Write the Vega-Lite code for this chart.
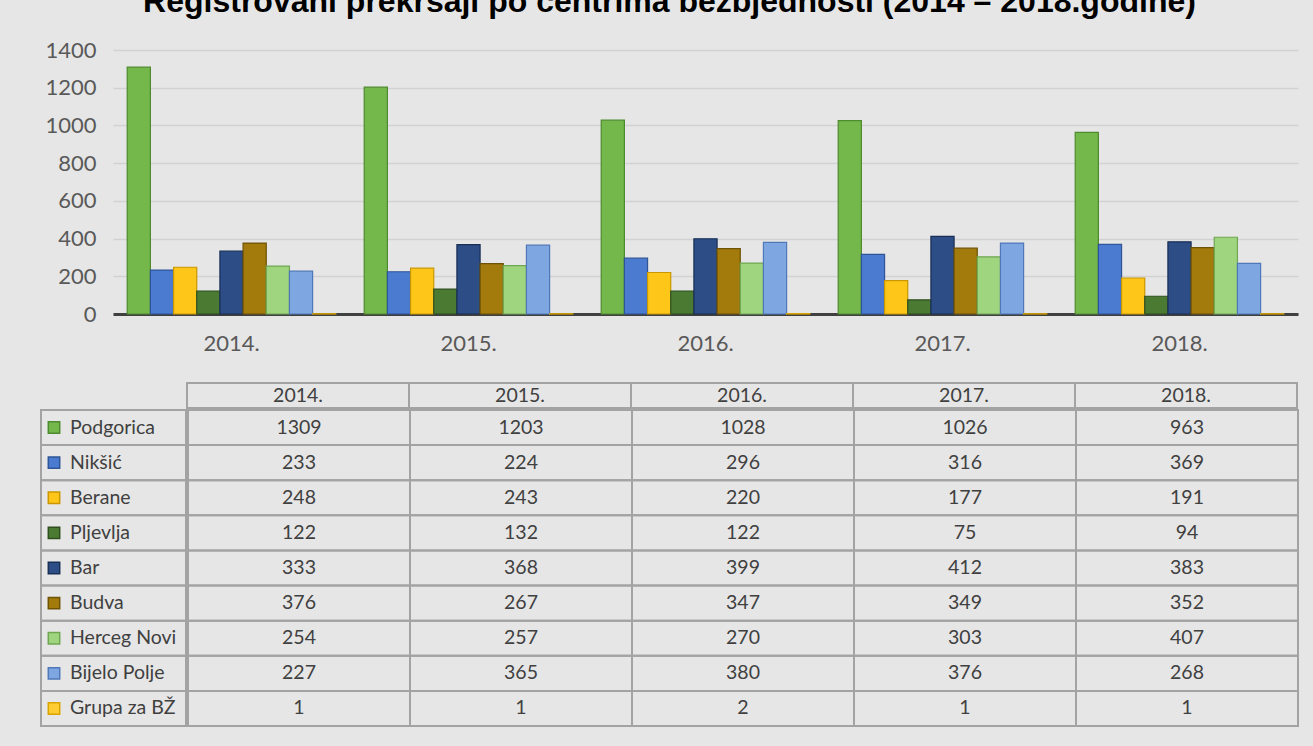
{
  "$schema": "https://vega.github.io/schema/vega-lite/v6.json",
  "background": "#e6e6e6",
  "padding": {"left": 40, "top": -14, "right": 16, "bottom": 23},
  "title": {
    "text": "Registrovani prekršaji po centrima bezbjednosti (2014 – 2018.godine)",
    "font": "Liberation Sans",
    "fontSize": 32,
    "fontWeight": "bold",
    "color": "#000000",
    "anchor": "middle",
    "offset": 20
  },
  "config": {
    "view": {"stroke": null},
    "font": "Lato",
    "axis": {"labelFont": "Lato"}
  },
  "datasets": {
    "crimes": [
      {"year": "2014.", "city": "Podgorica", "value": 1309},
      {"year": "2014.", "city": "Nikšić", "value": 233},
      {"year": "2014.", "city": "Berane", "value": 248},
      {"year": "2014.", "city": "Pljevlja", "value": 122},
      {"year": "2014.", "city": "Bar", "value": 333},
      {"year": "2014.", "city": "Budva", "value": 376},
      {"year": "2014.", "city": "Herceg Novi", "value": 254},
      {"year": "2014.", "city": "Bijelo Polje", "value": 227},
      {"year": "2014.", "city": "Grupa za BŽ", "value": 1},
      {"year": "2015.", "city": "Podgorica", "value": 1203},
      {"year": "2015.", "city": "Nikšić", "value": 224},
      {"year": "2015.", "city": "Berane", "value": 243},
      {"year": "2015.", "city": "Pljevlja", "value": 132},
      {"year": "2015.", "city": "Bar", "value": 368},
      {"year": "2015.", "city": "Budva", "value": 267},
      {"year": "2015.", "city": "Herceg Novi", "value": 257},
      {"year": "2015.", "city": "Bijelo Polje", "value": 365},
      {"year": "2015.", "city": "Grupa za BŽ", "value": 1},
      {"year": "2016.", "city": "Podgorica", "value": 1028},
      {"year": "2016.", "city": "Nikšić", "value": 296},
      {"year": "2016.", "city": "Berane", "value": 220},
      {"year": "2016.", "city": "Pljevlja", "value": 122},
      {"year": "2016.", "city": "Bar", "value": 399},
      {"year": "2016.", "city": "Budva", "value": 347},
      {"year": "2016.", "city": "Herceg Novi", "value": 270},
      {"year": "2016.", "city": "Bijelo Polje", "value": 380},
      {"year": "2016.", "city": "Grupa za BŽ", "value": 2},
      {"year": "2017.", "city": "Podgorica", "value": 1026},
      {"year": "2017.", "city": "Nikšić", "value": 316},
      {"year": "2017.", "city": "Berane", "value": 177},
      {"year": "2017.", "city": "Pljevlja", "value": 75},
      {"year": "2017.", "city": "Bar", "value": 412},
      {"year": "2017.", "city": "Budva", "value": 349},
      {"year": "2017.", "city": "Herceg Novi", "value": 303},
      {"year": "2017.", "city": "Bijelo Polje", "value": 376},
      {"year": "2017.", "city": "Grupa za BŽ", "value": 1},
      {"year": "2018.", "city": "Podgorica", "value": 963},
      {"year": "2018.", "city": "Nikšić", "value": 369},
      {"year": "2018.", "city": "Berane", "value": 191},
      {"year": "2018.", "city": "Pljevlja", "value": 94},
      {"year": "2018.", "city": "Bar", "value": 383},
      {"year": "2018.", "city": "Budva", "value": 352},
      {"year": "2018.", "city": "Herceg Novi", "value": 407},
      {"year": "2018.", "city": "Bijelo Polje", "value": 268},
      {"year": "2018.", "city": "Grupa za BŽ", "value": 1}
    ]
  },
  "data": {"name": "crimes"},
  "spacing": 28,
  "vconcat": [
    {
      "spacing": 0,
      "hconcat": [
        {
          "width": 1,
          "height": 264,
          "transform": [{"filter": "datum.city === 'Podgorica' && datum.year === '2014.'"}],
          "mark": {"type": "rect", "opacity": 0},
          "encoding": {}
        },
        {
          "width": 1185,
          "height": 264,
          "mark": {"type": "bar", "strokeWidth": 1.2},
          "encoding": {
            "x": {
              "field": "year", "type": "nominal", "sort": null,
              "scale": {"paddingInner": 0.12, "paddingOuter": 0.06},
              "axis": {
                "title": null, "labelAngle": 0, "labelFontSize": 22, "labelColor": "#595959",
                "ticks": false, "domainColor": "#404040", "domainWidth": 3, "labelPadding": 19
              }
            },
            "xOffset": {
              "field": "city", "type": "nominal",
              "sort": ["Podgorica", "Nikšić", "Berane", "Pljevlja", "Bar", "Budva", "Herceg Novi", "Bijelo Polje", "Grupa za BŽ"],
              "scale": {"paddingInner": 0}
            },
            "y": {
              "field": "value", "type": "quantitative",
              "scale": {"domain": [0, 1400]},
              "axis": {
                "title": null, "values": [0, 200, 400, 600, 800, 1000, 1200, 1400], "format": "d",
                "labelFontSize": 22, "labelColor": "#595959", "ticks": false, "domain": false,
                "gridColor": "#d2d2d2", "gridWidth": 1.5, "labelPadding": 17,
                "minExtent": 71, "maxExtent": 71
              }
            },
            "fill": {
              "field": "city", "type": "nominal", "legend": null,
              "scale": {
                "domain": ["Podgorica", "Nikšić", "Berane", "Pljevlja", "Bar", "Budva", "Herceg Novi", "Bijelo Polje", "Grupa za BŽ"],
                "range": ["#74B84C", "#4A7BD0", "#FFC61A", "#4B7A32", "#2C4D86", "#A37B0C", "#A0D57F", "#7EA7E2", "#FFCD33"]
              }
            },
            "stroke": {
              "field": "city", "type": "nominal", "legend": null,
              "scale": {
                "domain": ["Podgorica", "Nikšić", "Berane", "Pljevlja", "Bar", "Budva", "Herceg Novi", "Bijelo Polje", "Grupa za BŽ"],
                "range": ["#4E8A2E", "#2F5597", "#C99700", "#2F4F1E", "#1A2F55", "#6E5206", "#6FA652", "#4F78B8", "#D9A400"]
              }
            }
          }
        }
      ]
    },
    {
      "spacing": 0,
      "vconcat": [
        {
          "spacing": 0,
          "hconcat": [
            {
              "width": 145,
              "height": 25,
              "transform": [{"filter": "datum.city === 'Podgorica' && datum.year === '2014.'"}],
              "mark": {"type": "rect", "opacity": 0},
              "encoding": {}
            },
            {
              "width": 1110,
              "height": 25,
              "transform": [{"filter": "datum.city === 'Podgorica'"}],
              "encoding": {
                "x": {"field": "year", "type": "nominal", "sort": null, "axis": null, "scale": {"paddingInner": 0, "paddingOuter": 0}}
              },
              "layer": [
                {"mark": {"type": "rect", "fill": "transparent", "stroke": "#a3a3a3", "strokeWidth": 2}},
                {"mark": {"type": "text", "fontSize": 19.5, "color": "#404040"}, "encoding": {"text": {"field": "year"}}}
              ]
            }
          ]
        },
        {
          "spacing": 0,
          "hconcat": [
            {
              "width": 145,
              "height": 316,
              "transform": [{"filter": "datum.year === '2014.'"}],
              "encoding": {
                "y": {
                  "field": "city", "type": "nominal", "axis": null,
                  "sort": ["Podgorica", "Nikšić", "Berane", "Pljevlja", "Bar", "Budva", "Herceg Novi", "Bijelo Polje", "Grupa za BŽ"],
                  "scale": {"paddingInner": 0, "paddingOuter": 0}
                }
              },
              "layer": [
                {"mark": {"type": "rect", "fill": "transparent", "stroke": "#a3a3a3", "strokeWidth": 2}},
                {
                  "mark": {"type": "point", "shape": "square", "filled": true, "size": 130, "strokeWidth": 1.5, "opacity": 1},
                  "encoding": {
                    "x": {"value": 13},
                    "fill": {"field": "city", "type": "nominal", "legend": null},
                    "stroke": {"field": "city", "type": "nominal", "legend": null}
                  }
                },
                {
                  "mark": {"type": "text", "align": "left", "fontSize": 19.5, "color": "#404040"},
                  "encoding": {"x": {"value": 29}, "text": {"field": "city"}}
                }
              ]
            },
            {
              "width": 1110,
              "height": 316,
              "encoding": {
                "x": {"field": "year", "type": "nominal", "sort": null, "axis": null, "scale": {"paddingInner": 0, "paddingOuter": 0}},
                "y": {
                  "field": "city", "type": "nominal", "axis": null,
                  "sort": ["Podgorica", "Nikšić", "Berane", "Pljevlja", "Bar", "Budva", "Herceg Novi", "Bijelo Polje", "Grupa za BŽ"],
                  "scale": {"paddingInner": 0, "paddingOuter": 0}
                }
              },
              "layer": [
                {"mark": {"type": "rect", "fill": "transparent", "stroke": "#a3a3a3", "strokeWidth": 2}},
                {"mark": {"type": "text", "fontSize": 19.5, "color": "#404040"}, "encoding": {"text": {"field": "value"}}}
              ]
            }
          ]
        }
      ]
    }
  ]
}
